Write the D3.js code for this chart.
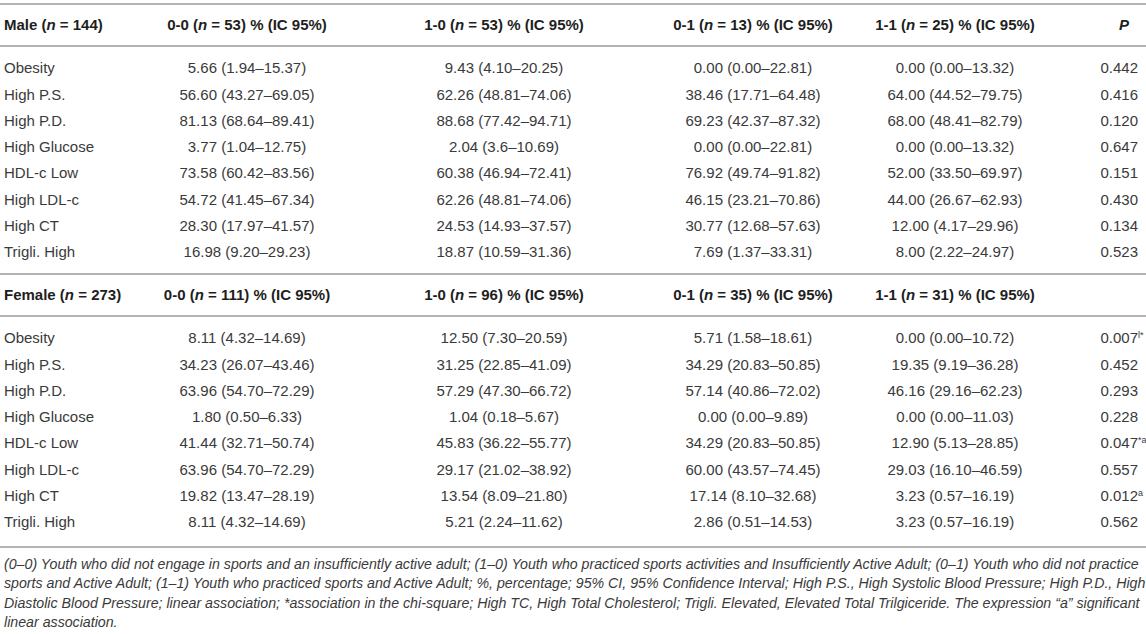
<!DOCTYPE html>
<html>
<head>
<meta charset="utf-8">
<script src="https://cdn.jsdelivr.net/npm/d3@7"></script>
<style>
  body { margin: 0; background: #fff; }
  text { font-family: "Liberation Sans", Arial, Helvetica, sans-serif; }
</style>
</head>
<body>
<div class="chart"></div>
<script>

// row labels (same for both sexes)
const variables = ["Obesity", "High P.S.", "High P.D.", "High Glucose", "HDL-c Low", "High LDL-c", "High CT", "Trigli. High"];
const groups = ["0-0", "1-0", "0-1", "1-1"];

// male
const maleN = 144;
const maleGroupN = [53, 53, 13, 25];
const male00 = ["5.66 (1.94–15.37)", "56.60 (43.27–69.05)", "81.13 (68.64–89.41)", "3.77 (1.04–12.75)", "73.58 (60.42–83.56)", "54.72 (41.45–67.34)", "28.30 (17.97–41.57)", "16.98 (9.20–29.23)"];
const male10 = ["9.43 (4.10–20.25)", "62.26 (48.81–74.06)", "88.68 (77.42–94.71)", "2.04 (3.6–10.69)", "60.38 (46.94–72.41)", "62.26 (48.81–74.06)", "24.53 (14.93–37.57)", "18.87 (10.59–31.36)"];
const male01 = ["0.00 (0.00–22.81)", "38.46 (17.71–64.48)", "69.23 (42.37–87.32)", "0.00 (0.00–22.81)", "76.92 (49.74–91.82)", "46.15 (23.21–70.86)", "30.77 (12.68–57.63)", "7.69 (1.37–33.31)"];
const male11 = ["0.00 (0.00–13.32)", "64.00 (44.52–79.75)", "68.00 (48.41–82.79)", "0.00 (0.00–13.32)", "52.00 (33.50–69.97)", "44.00 (26.67–62.93)", "12.00 (4.17–29.96)", "8.00 (2.22–24.97)"];
const maleP = ["0.442", "0.416", "0.120", "0.647", "0.151", "0.430", "0.134", "0.523"];
const maleSup = ["", "", "", "", "", "", "", ""];

// female
const femaleN = 273;
const femaleGroupN = [111, 96, 35, 31];
const female00 = ["8.11 (4.32–14.69)", "34.23 (26.07–43.46)", "63.96 (54.70–72.29)", "1.80 (0.50–6.33)", "41.44 (32.71–50.74)", "63.96 (54.70–72.29)", "19.82 (13.47–28.19)", "8.11 (4.32–14.69)"];
const female10 = ["12.50 (7.30–20.59)", "31.25 (22.85–41.09)", "57.29 (47.30–66.72)", "1.04 (0.18–5.67)", "45.83 (36.22–55.77)", "29.17 (21.02–38.92)", "13.54 (8.09–21.80)", "5.21 (2.24–11.62)"];
const female01 = ["5.71 (1.58–18.61)", "34.29 (20.83–50.85)", "57.14 (40.86–72.02)", "0.00 (0.00–9.89)", "34.29 (20.83–50.85)", "60.00 (43.57–74.45)", "17.14 (8.10–32.68)", "2.86 (0.51–14.53)"];
const female11 = ["0.00 (0.00–10.72)", "19.35 (9.19–36.28)", "46.16 (29.16–62.23)", "0.00 (0.00–11.03)", "12.90 (5.13–28.85)", "29.03 (16.10–46.59)", "3.23 (0.57–16.19)", "3.23 (0.57–16.19)"];
const femaleP = ["0.007", "0.452", "0.293", "0.228", "0.047", "0.557", "0.012", "0.562"];
const femaleSup = ["l*", "", "", "", "*a", "", "a", ""];

const footnote = [
  "(0–0) Youth who did not engage in sports and an insufficiently active adult; (1–0) Youth who practiced sports activities and Insufficiently Active Adult; (0–1) Youth who did not practice",
  "sports and Active Adult; (1–1) Youth who practiced sports and Active Adult; %, percentage; 95% CI, 95% Confidence Interval; High P.S., High Systolic Blood Pressure; High P.D., High",
  "Diastolic Blood Pressure; linear association; *association in the chi-square; High TC, High Total Cholesterol; Trigli. Elevated, Elevated Total Trilgiceride. The expression “a” significant",
  "linear association."
];

const width = 1146, height = 634;
const ruleColor = "#b4b4b4", textColor = "#3a3a3a", headColor = "#1e1e1e";

const svg = d3.select(".chart").append("svg")
    .attr("width", width)
    .attr("height", height);

// column centres, headers and cells share them
const colScale = d3.scaleOrdinal()
    .domain(groups)
    .range([247, 504, 753, 955]);
const pRight = 1138;

function rule(y) {
  svg.append("line")
      .attr("x1", 0).attr("x2", width)
      .attr("y1", y).attr("y2", y)
      .attr("stroke", ruleColor)
      .attr("stroke-width", 2);
}

function drawSection(top, label, n, groupN, cols, pvals, sups, showP) {
  rule(top);

  // header row
  const hy = top + 21;
  const title = svg.append("text")
      .attr("x", 4).attr("y", hy).attr("dy", "0.35em")
      .attr("font-size", "15px").attr("font-weight", "bold")
      .attr("fill", headColor);
  title.append("tspan").text(label + " (");
  title.append("tspan").attr("font-style", "italic").text("n");
  title.append("tspan").text(" = " + n + ")");

  groups.forEach((g, i) => {
    const t = svg.append("text")
        .attr("x", colScale(g)).attr("y", hy).attr("dy", "0.35em")
        .attr("text-anchor", "middle")
        .attr("font-size", "15px").attr("font-weight", "bold")
        .attr("fill", headColor);
    t.append("tspan").text(g + " (");
    t.append("tspan").attr("font-style", "italic").text("n");
    t.append("tspan").text(" = " + groupN[i] + ") % (IC 95%)");
  });

  if (showP) {
    svg.append("text")
        .attr("x", pRight - 14).attr("y", hy).attr("dy", "0.35em")
        .attr("text-anchor", "middle")
        .attr("font-size", "15px").attr("font-weight", "bold").attr("font-style", "italic")
        .attr("fill", headColor)
        .text("P");
  }

  rule(top + 42);

  const yScale = d3.scalePoint()
      .domain(variables)
      .range([top + 64, top + 248]);

  // row labels
  svg.selectAll(null)
      .data(variables).enter()
      .append("text")
      .attr("x", 4)
      .attr("y", d => yScale(d))
      .attr("dy", "0.35em")
      .attr("font-size", "15px")
      .attr("fill", textColor)
      .text(d => d);

  // value cells
  cols.forEach((col, ci) => {
    svg.selectAll(null)
        .data(col).enter()
        .append("text")
        .attr("x", colScale(groups[ci]))
        .attr("y", (d, i) => yScale(variables[i]))
        .attr("dy", "0.35em")
        .attr("text-anchor", "middle")
        .attr("font-size", "15px")
        .attr("fill", textColor)
        .text(d => d);
  });

  // P values, right aligned, superscripts hang past the edge
  const pt = svg.selectAll(null)
      .data(pvals).enter()
      .append("text")
      .attr("x", pRight)
      .attr("y", (d, i) => yScale(variables[i]))
      .attr("dy", "0.35em")
      .attr("text-anchor", "end")
      .attr("font-size", "15px")
      .attr("fill", textColor);
  pt.append("tspan").text(d => d);
  pt.each(function(d, i) {
    if (sups[i]) {
      const node = d3.select(this);
      node.attr("text-anchor", "start")
          .attr("x", pRight - node.node().getComputedTextLength());
      node.append("tspan")
          .attr("font-size", "9px")
          .attr("dy", "-0.6em")
          .text(sups[i]);
    }
  });
}

drawSection(4, "Male", maleN, maleGroupN, [male00, male10, male01, male11], maleP, maleSup, true);
drawSection(274, "Female", femaleN, femaleGroupN, [female00, female10, female01, female11], femaleP, femaleSup, false);

rule(547);

svg.selectAll(".foot")
    .data(footnote).enter()
    .append("text")
    .attr("class", "foot")
    .attr("x", 4)
    .attr("y", (d, i) => 564 + i * 19.5)
    .attr("dy", "0.35em")
    .attr("font-size", "14.2px")
    .attr("font-style", "italic")
    .attr("fill", textColor)
    .text(d => d);

</script>
</body>
</html>
